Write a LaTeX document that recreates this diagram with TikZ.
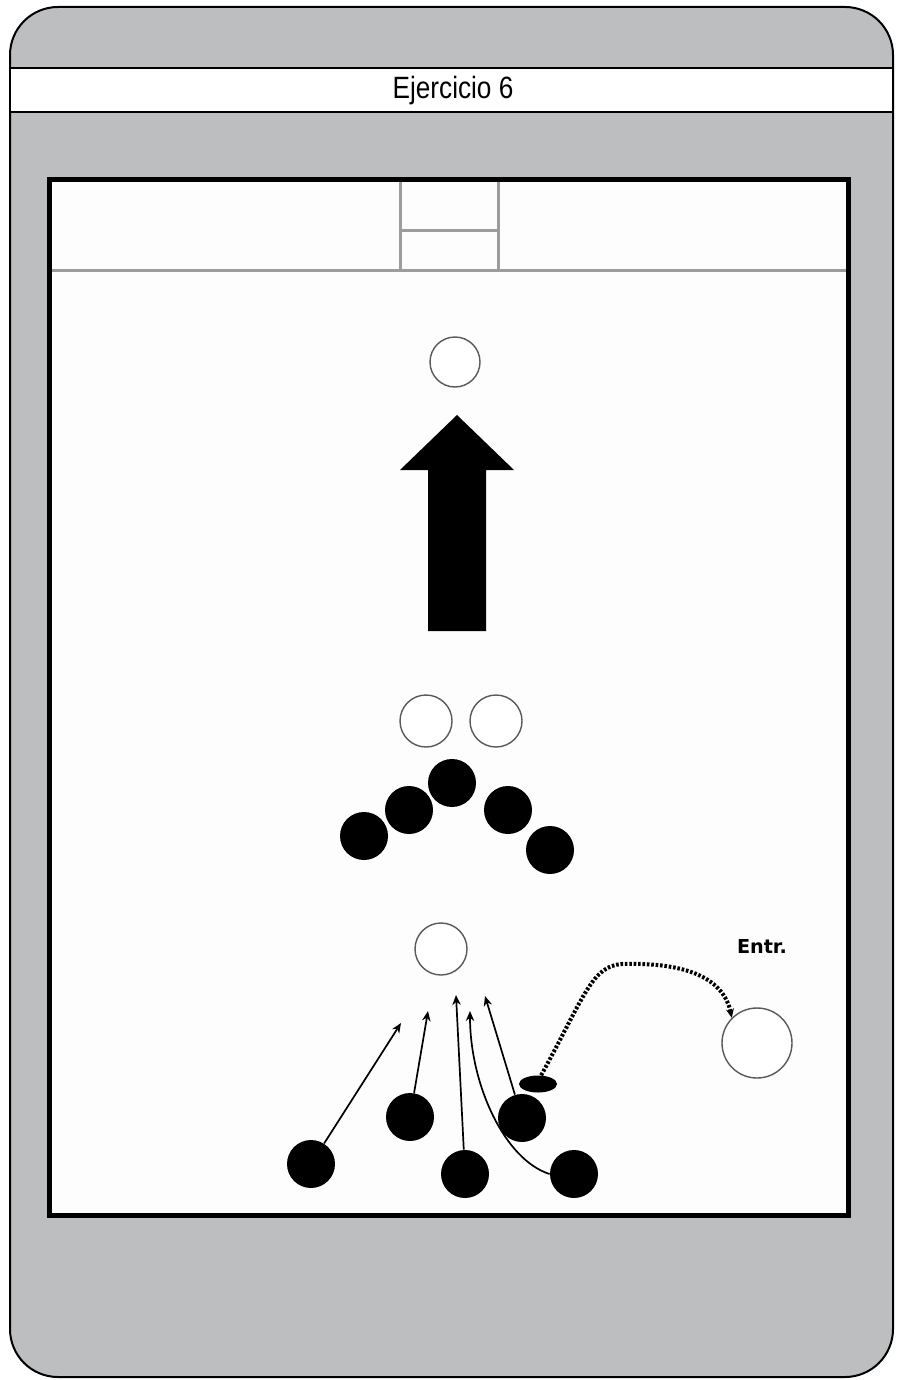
\documentclass[tikz,border=0pt]{standalone}
\usepackage{fontspec}
\setmainfont{Liberation Sans}
\newfontfamily\labelfont{DejaVu Sans}
\usetikzlibrary{shapes.geometric, arrows.meta, positioning}

\definecolor{panelgrey}{HTML}{BDBEC0}
\definecolor{fieldwhite}{HTML}{FDFDFD}
\definecolor{goalgrey}{HTML}{9C9C9E}

\begin{document}
\begin{tikzpicture}[
    x=0.5pt, y=-0.5pt,
    player/.style={circle, fill=black, draw=none, inner sep=0pt, minimum size=24pt},
    cone/.style={circle, draw=black!65, line width=0.7pt, fill=white, inner sep=0pt, minimum size=#1},
    cone/.default=26pt,
    ball/.style={ellipse, fill=black, inner sep=0pt, minimum width=19pt, minimum height=8.5pt},
    run/.style={line width=0.85pt, -{Stealth[length=5pt, width=4.2pt]}},
    pass/.style={line width=2pt, dash pattern=on 1.3pt off 0.9pt, -{Stealth[length=4.5pt, width=4pt]}}
]
\useasboundingbox (0,0) rectangle (898,1380);
% panel and title
\draw[fill=panelgrey, line width=1pt, rounded corners=24pt] (10,7) rectangle (893,1377);
\draw[fill=white, line width=1pt] (10,68) rectangle (893,112);
\node[xscale=0.85, anchor=base] (title) at (453,99) {\fontsize{15.4pt}{17pt}\selectfont Ejercicio 6};

% field
\draw[fill=fieldwhite, line width=2.5pt] (49.5,179.5) rectangle (848.5,1215.5);
\draw[goalgrey, line width=1.5pt] (52,270) -- (846,270);
\draw[goalgrey, line width=1.5pt] (400,182) -- (400,270) (498,182) -- (498,270) (400,231) -- (498,231);

% direction of play
\node[cone=25pt] (goalcone) at (455,362) {};
\fill (457,415) -- (514,470) -- (486,470) -- (486,631) -- (428,631) -- (428,470) -- (400,470) -- cycle;

% wedge formation
\node[cone] (leftcone)  at (426,721) {};
\node[cone] (rightcone) at (496,721) {};
\node[player] (w1) at (364,836) {};
\node[player] (w2) at (409,810) {};
\node[player] (w3) at (452,783) {};
\node[player] (w4) at (508,810) {};
\node[player] (w5) at (550,850) {};

% drill at the bottom
\node[cone] (target) at (441,949) {};
\node[cone=35pt] (coach) at (757,1043) {};
\node[font=\labelfont\bfseries\fontsize{9.6pt}{11pt}\selectfont] (entr) at (762,946) {Entr.};
\node[player] (pA) at (311,1164) {};
\node[player] (pB) at (410,1117) {};
\node[player] (pC) at (465,1174) {};
\node[player] (pD) at (522,1118) {};
\node[player] (pE) at (574,1174) {};
\node[ball] (ball) at (538,1084) {};

\coordinate (t1) at (401,1023);
\coordinate (t2) at (428,1011);
\coordinate (t3) at (456,995);
\coordinate (t4) at (470,1011);
\coordinate (t5) at (485,996);

\draw[run] (pA) -- (t1);
\draw[run] (pB) -- (t2);
\draw[run] (pC) -- (t3);
\draw[run] (pE.west) .. controls (505,1160) and (470,1085) .. (t4);
\draw[run] (pD) -- (t5);
\draw[pass] (ball.70) .. controls (585,995) and (592,966) .. (622,964)
            .. controls (690,962) and (724,980) .. (coach.north west);
\end{tikzpicture}
\end{document}
